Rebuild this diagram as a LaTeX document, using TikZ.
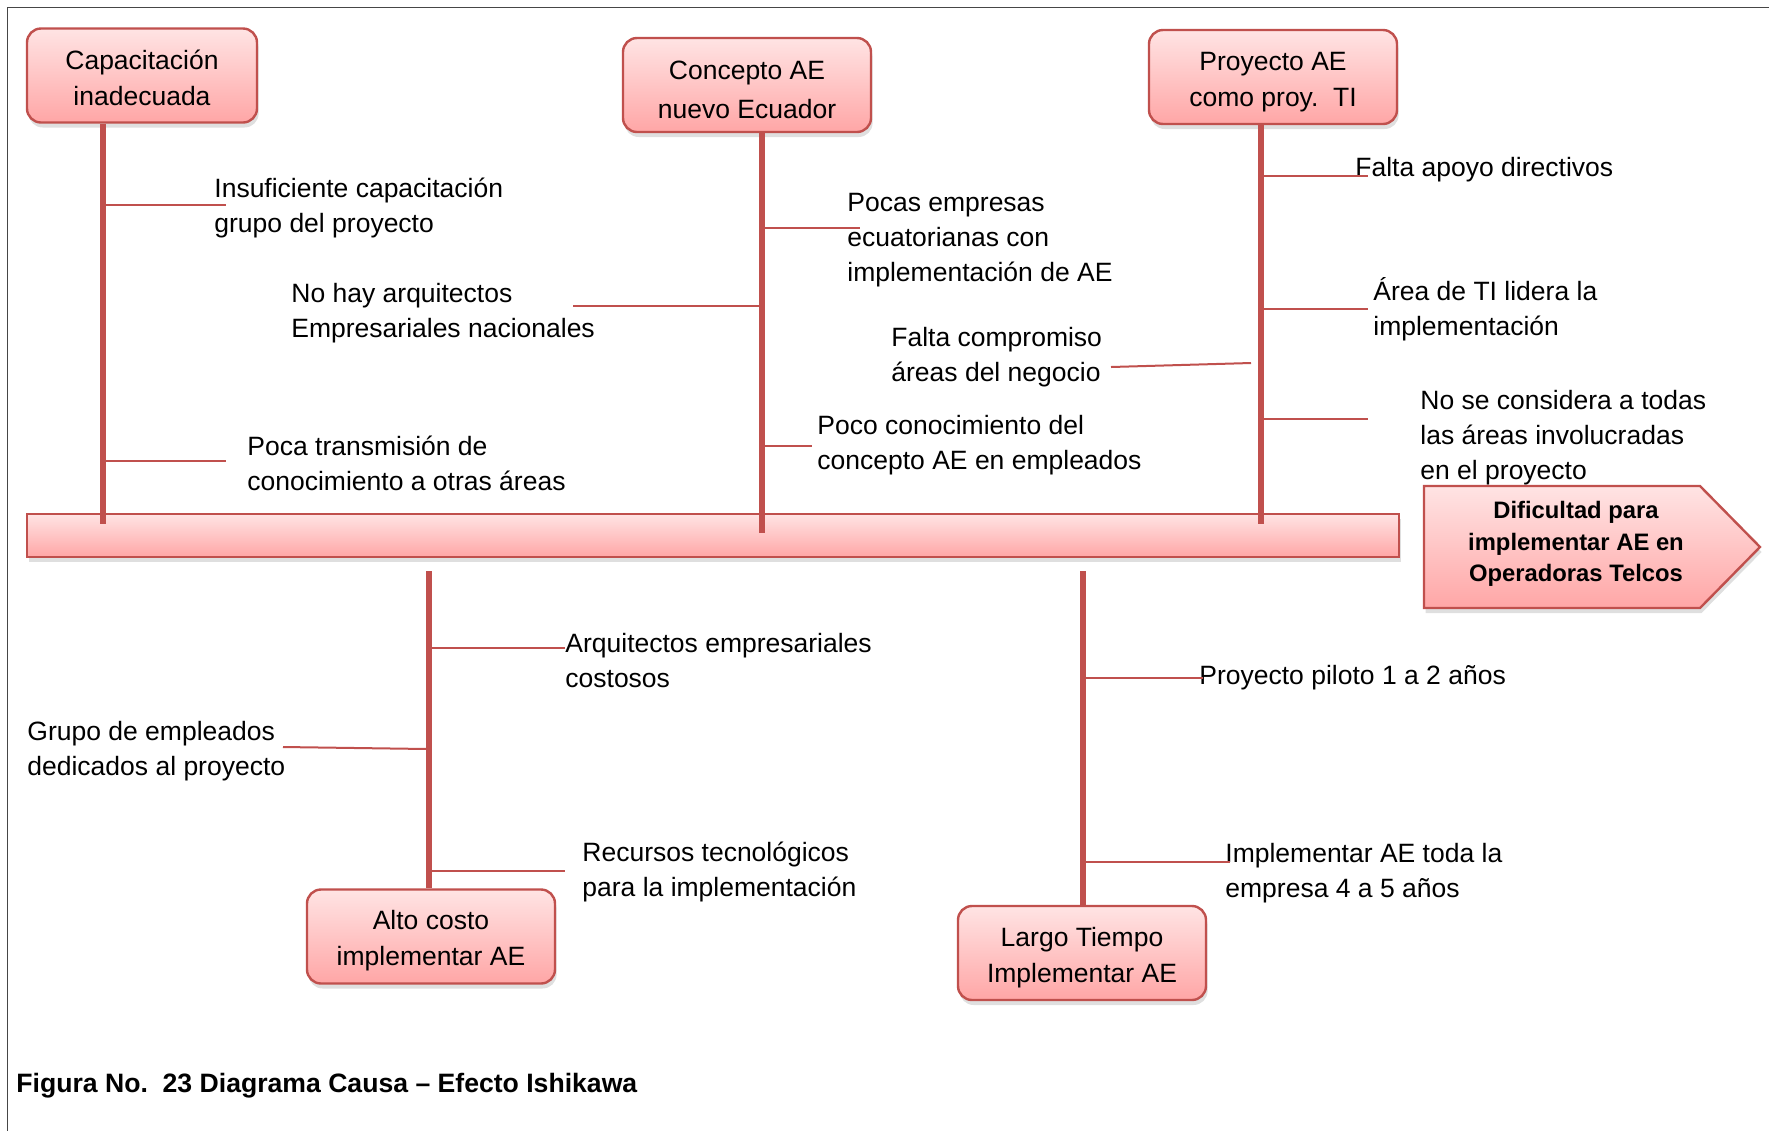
\documentclass[tikz,border=0pt]{standalone}
\usepackage{fontspec}
\setmainfont{Liberation Sans}
\usetikzlibrary{shadows}
\definecolor{fishred}{RGB}{192,80,77}
\definecolor{boxtop}{RGB}{255,228,228}
\definecolor{boxbot}{RGB}{255,166,166}
\definecolor{framegray}{RGB}{70,70,70}
\newcommand\txtfont{\fontsize{13.25}{17.5}\selectfont}
\newcommand\topstrut[1][14pt]{\rule{0pt}{#1}}
\tikzset{
  softshadow/.style={drop shadow={shadow xshift=.8pt,shadow yshift=-2.5pt,opacity=.25}},
  causebox/.style={draw=fishred,line width=1.2pt,rounded corners=7pt,
    top color=boxtop,bottom color=boxbot,softshadow,align=center,
    minimum width=124pt,minimum height=47pt,inner sep=0pt,
    font=\fontsize{13.25}{18}\selectfont},
  spine/.style={draw=fishred,line width=3pt},
  branch/.style={draw=fishred,line width=1pt},
  cause/.style={anchor=west,align=left,inner sep=0pt,font=\txtfont,yshift=-1.2pt},
}
\begin{document}
\begin{tikzpicture}[x=.5pt,y=-.5pt]
\useasboundingbox (0,0) rectangle (1769,1131);
\draw[framegray,line width=.8pt] (7.3,1131) -- (7.3,7.3) -- (1769,7.3);
% main bone and head
\node[draw=fishred,line width=1.2pt,top color=boxtop,bottom color=boxbot,softshadow,
  minimum width=686pt,minimum height=21.5pt,inner sep=0pt] (bar) at (713,535.5) {};
\filldraw[draw=fishred,line width=1.2pt,top color=boxtop,bottom color=boxbot,softshadow]
  (1424,486) -- (1700,486) -- (1760,547) -- (1700,608) -- (1424,608) -- cycle;
\node[align=center,inner sep=0pt,font=\fontsize{11.9}{15.8}\selectfont\bfseries] (effect) at (1576,544)
  {Dificultad para\\implementar AE en\\Operadoras Telcos};
% categories
\node[causebox,minimum width=115pt] (cap) at (142,75.5) {\topstrut[11.8pt]Capacitación\\inadecuada};
\node[causebox,font=\fontsize{13.25}{19.5}\selectfont] (con) at (747,85) {\topstrut Concepto AE\\nuevo Ecuador};
\node[causebox] (proy) at (1273,77) {\topstrut Proyecto AE\\como proy.\ \ TI};
\node[causebox] (alto) at (431,936.5) {\topstrut Alto costo\\implementar AE};
\node[causebox] (largo) at (1082,953) {\topstrut Largo Tiempo\\Implementar AE};
\coordinate (sp1) at ([xshift=-19.5pt]cap.south);
\coordinate (sp2) at ([xshift=7.5pt]con.south);
\coordinate (sp3) at ([xshift=-6pt]proy.south);
\coordinate (sp4) at ([xshift=-1pt]alto.north);
\coordinate (sp5) at ([xshift=.5pt]largo.north);
\draw[spine] (sp1) -- ([yshift=-5.5pt]sp1 |- bar.north);
\draw[spine] (sp2) -- ([yshift=-10pt]sp2 |- bar.north);
\draw[spine] (sp3) -- ([yshift=-5.5pt]sp3 |- bar.north);
\draw[spine] ([yshift=-6.5pt]bar.south -| sp4) -- (sp4);
\draw[spine] ([yshift=-6.5pt]bar.south -| sp5) -- (sp5);
% causes
\node[cause] (l11) at (214,205.5) {Insuficiente capacitación\\grupo del proyecto};
\node[cause] (l12) at (247,461) {Poca transmisión de\\conocimiento a otras áreas};
\node[cause] (l21) at (291,310.5) {No hay arquitectos\\Empresariales nacionales};
\node[cause] (l22) at (847,238) {Pocas empresas\\ecuatorianas con\\implementación de AE};
\node[cause] (l23) at (817,442.5) {Poco conocimiento del\\concepto AE en empleados};
\node[cause] (l31) at (891,354.5) {Falta compromiso\\áreas del negocio};
\node[cause] (l32) at (1355,167) {Falta apoyo directivos};
\node[cause] (l33) at (1373,306.5) {Área de TI lidera la\\implementación};
\node[cause] (l34) at (1420,435) {No se considera a todas\\las áreas involucradas\\en el proyecto};
\node[cause] (l41) at (565,658) {Arquitectos empresariales\\costosos};
\node[cause] (l42) at (27,748.5) {Grupo de empleados\\dedicados al proyecto};
\node[cause] (l43) at (582,869.5) {Recursos tecnológicos\\para la implementación};
\node[cause] (l51) at (1199,675) {Proyecto piloto 1 a 2 años};
\node[cause] (l52) at (1225,870.5) {Implementar AE toda la\\empresa 4 a 5 años};
% branch ends
\coordinate (c11) at (226,205);
\coordinate (c12) at (226,461);
\coordinate (c21) at (573,306);
\coordinate (c22) at (860,228);
\coordinate (c23) at (812,446);
\coordinate (c31a) at (1111,367);
\coordinate (c31b) at (1251,363);
\coordinate (c32) at (1368,176);
\coordinate (c33) at (1368,309);
\coordinate (c34) at (1368,419);
\coordinate (c41) at (565,648);
\coordinate (c42a) at (283,747);
\coordinate (c42b) at (427,749);
\coordinate (c43) at (565,871);
\coordinate (c51) at (1203,678);
\coordinate (c52) at (1230,862);
\draw[branch] (sp1 |- c11) -- (c11);
\draw[branch] (sp1 |- c12) -- (c12);
\draw[branch] (sp2 |- c21) -- (c21);
\draw[branch] (sp2 |- c22) -- (c22);
\draw[branch] (sp2 |- c23) -- (c23);
\draw[branch] (c31a) -- (c31b);
\draw[branch] (sp3 |- c32) -- (c32);
\draw[branch] (sp3 |- c33) -- (c33);
\draw[branch] (sp3 |- c34) -- (c34);
\draw[branch] (sp4 |- c41) -- (c41);
\draw[branch] (c42a) -- (c42b);
\draw[branch] (sp4 |- c43) -- (c43);
\draw[branch] (sp5 |- c51) -- (c51);
\draw[branch] (sp5 |- c52) -- (c52);
% caption
\node[anchor=west,inner sep=0pt,font=\fontsize{13.3}{16}\selectfont\bfseries] (caption) at (16,1086)
  {Figura No.\ \ 23 Diagrama Causa – Efecto Ishikawa};
\end{tikzpicture}
\end{document}
